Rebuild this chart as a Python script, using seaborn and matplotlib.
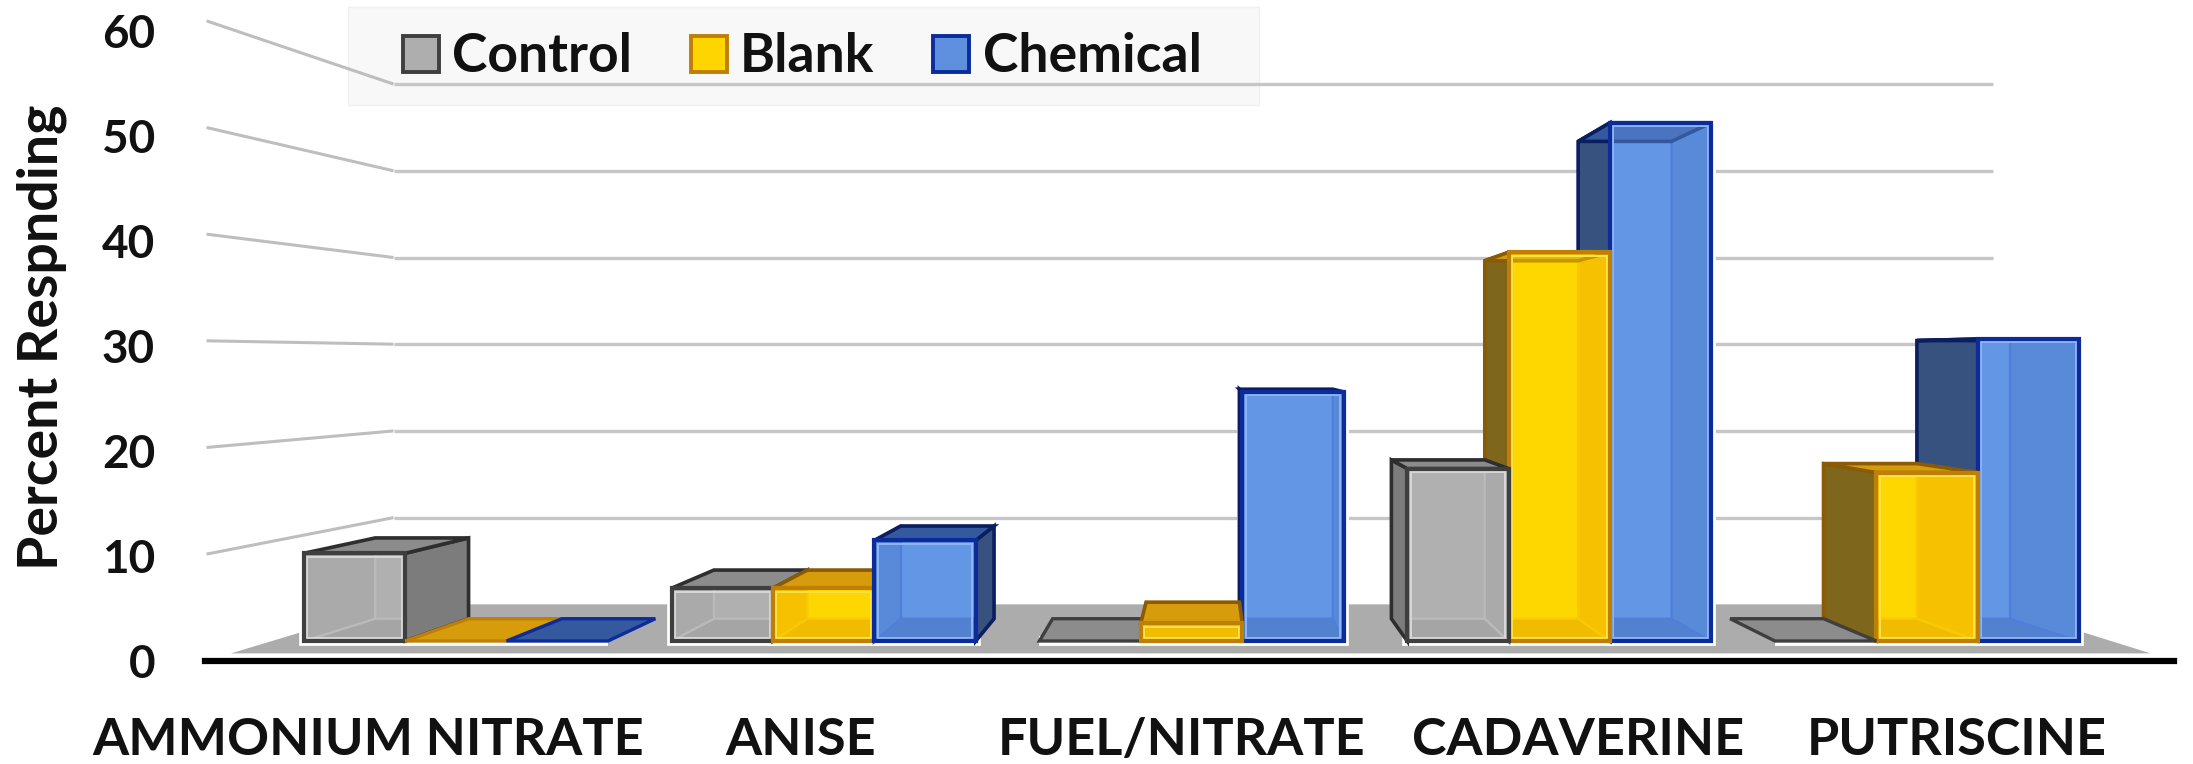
import matplotlib
matplotlib.use("Agg")
import matplotlib.pyplot as plt
from matplotlib.patches import Polygon, Patch, Rectangle
from matplotlib.lines import Line2D
from matplotlib.transforms import IdentityTransform
import pandas as pd
import seaborn as sns

categories = ["AMMONIUM NITRATE", "ANISE", "FUEL/NITRATE", "CADAVERINE", "PUTRISCINE"]
series_names = ["Control", "Blank", "Chemical"]
control = [8.8, 5.3, 0, 17.3, 0]
blank = [0, 5.3, 1.8, 39, 16.9]
chemical = [0, 10.1, 25, 52, 30.3]
y_ticks = [0, 10, 20, 30, 40, 50, 60]

W, H = 2193, 764
DEPTH_FRONT_WALL = 1.07
DEPTH_FLOOR_EDGE = 1.044
DEPTH_BAR_BACK = 0.921
DEPTH_BACK_WALL = 0.87
VANISH = (1207, H - 359)

STYLE = {
    "Control": dict(front="#AEAEAE", back="#B4B4B4", wall="#A6A6A6", floor="#9C9C9C", side="#7C7C7C",
                    top="#8C8C8C", edge="#3F3F3F", dark="#2E2E2E", rib="#C8C8C8", shine="#D8D8D8"),
    "Blank": dict(front="#FFD500", back="#FFDA00", wall="#EDB000", floor="#E0A400", side="#7E671C",
                  top="#D69C0C", edge="#BF7F06", dark="#8A5A04", rib="#F3BE10", shine="#FFE24A"),
    "Chemical": dict(front="#5F90E0", back="#6A9EEE", wall="#5485D2", floor="#4673C0", side="#38527F",
                     top="#35599F", edge="#0B2C9A", dark="#0A1E60", rib="#3F6FD0", shine="#8DB6F4"),
}

sns.set_theme(style="white")
plt.rcParams["font.family"] = ["Lato", "DejaVu Sans"]
plt.rcParams["font.weight"] = "bold"

fig = plt.figure(figsize=(W / 100, H / 100), dpi=100, facecolor="white")


def axes_box(left, right, top, bottom):
    return [left / W, 1 - bottom / H, (right - left) / W, (bottom - top) / H]


# Front wall of the room: carries the value axis and the heavy baseline
wall = fig.add_axes(axes_box(205, 2174, 31, 661), zorder=1)
wall.set_xlim(0, 1)
wall.set_ylim(0, 60)
wall.set_xticks([])
wall.set_yticks(y_ticks)
wall.tick_params(axis="y", length=0, pad=36, labelsize=33, labelcolor="#111111")
for name, spine in wall.spines.items():
    spine.set_visible(name == "bottom")
wall.spines["bottom"].set_color("black")
wall.spines["bottom"].set_linewidth(4.5)
wall.set_ylabel("Percent Respnding", fontsize=40, fontweight="bold", color="#111111")
wall.yaxis.set_label_coords(-0.07, 0.514)
wall.patch.set_alpha(0)

# Plane of the bar fronts
ax = fig.add_axes(axes_box(272, 2111, 43, 641), zorder=2)
table = pd.DataFrame({
    "category": categories * 3,
    "series": [s for s in series_names for _ in categories],
    "value": control + blank + chemical,
})
sns.barplot(data=table, x="category", y="value", hue="series", hue_order=series_names,
            palette=[STYLE[s]["front"] for s in series_names], saturation=1, width=0.827, gap=0,
            legend=False, ax=ax, zorder=5)
ax.set_xlim(-0.5, 4.5)
ax.set_ylim(0, 60)
ax.patch.set_alpha(0)
for spine in ax.spines.values():
    spine.set_visible(False)
ax.set_xlabel("")
ax.set_ylabel("")
ax.set_yticks([])
ax.set_xticks([-0.24, 0.937, 1.973, 3.05, 4.08], categories)
ax.tick_params(axis="x", length=0, pad=55, labelsize=37.5, labelcolor="#111111")


def project(x, value, depth):
    px, py = ax.transData.transform((x, value))
    return (VANISH[0] + (px - VANISH[0]) * depth, VANISH[1] + (py - VANISH[1]) * depth)


def face(points, facecolor, edgecolor, zorder, lw=1.6):
    poly = Polygon([project(*p) for p in points], closed=True, facecolor=facecolor,
                   edgecolor=edgecolor, linewidth=lw, zorder=zorder,
                   transform=IdentityTransform(), clip_on=False)
    ax.add_patch(poly)
    return poly


def rule(points, color, lw, zorder):
    xs, ys = zip(*[project(*p) for p in points])
    ax.add_line(Line2D(xs, ys, color=color, linewidth=lw, zorder=zorder,
                       transform=IdentityTransform(), clip_on=False, solid_capstyle="butt"))


# Seaborn's bars are the fronts; keep the list before adding the depth faces
bars = list(zip(list(ax.patches), [s for s in series_names for _ in categories]))

# Room: grid rules on the back wall, slanted rules on the side wall, grey floor
for v in y_ticks[1:]:
    rule([(-0.5, v, DEPTH_BACK_WALL), (4.5, v, DEPTH_BACK_WALL)], "#C6C6C6", 2.4, 1)
    rule([(-0.5, v, DEPTH_FRONT_WALL), (-0.5, v, DEPTH_BACK_WALL)], "#BEBEBE", 2.2, 1)
face([(-0.5, 0, DEPTH_FLOOR_EDGE), (4.5, 0, DEPTH_FLOOR_EDGE),
      (4.5, 0, DEPTH_BACK_WALL), (-0.5, 0, DEPTH_BACK_WALL)], "#ACACAC", "none", 2, lw=0)

# Bars far from the centre are painted first so nearer ones overlap their sides
bars.sort(key=lambda b: -abs(ax.transData.transform((b[0].get_x() + b[0].get_width() / 2, 0))[0] - VANISH[0]))

B = DEPTH_BAR_BACK
for patch, series in bars:
    x0, x1, v = patch.get_x(), patch.get_x() + patch.get_width(), patch.get_height()
    face([(x0, 0, 1), (x1, 0, 1), (x1, v, 1), (x0, v, 1)], "white", "white", 3, lw=7)

for order, (patch, series) in enumerate(bars):
    st = STYLE[series]
    x0, x1, v = patch.get_x(), patch.get_x() + patch.get_width(), patch.get_height()
    z = 5 + order * 0.1
    if v == 0:
        patch.set_visible(False)
        face([(x0, 0, 1), (x1, 0, 1), (x1, 0, B), (x0, 0, B)], st["top"], st["edge"], z, lw=2.4)
        continue
    left_outer = project(x0, 0, 1)[0] > VANISH[0]
    right_outer = project(x1, 0, 1)[0] < VANISH[0]
    left_wall = [(x0, 0, 1), (x0, v, 1), (x0, v, B), (x0, 0, B)]
    right_wall = [(x1, 0, 1), (x1, v, 1), (x1, v, B), (x1, 0, B)]
    top = [(x0, v, 1), (x1, v, 1), (x1, v, B), (x0, v, B)]
    face([(x0, 0, B), (x1, 0, B), (x1, v, B), (x0, v, B)], st["back"], st["rib"], z, lw=1.6)
    face([(x0, 0, 1), (x1, 0, 1), (x1, 0, B), (x0, 0, B)], st["floor"], st["rib"], z + 0.01, lw=1.6)
    if left_outer:
        face(right_wall, st["wall"], st["rib"], z + 0.02, lw=1.6)
        face(left_wall, st["side"], st["dark"], z + 0.03, lw=2.6)
    elif right_outer:
        face(left_wall, st["wall"], st["rib"], z + 0.02, lw=1.6)
        face(right_wall, st["side"], st["dark"], z + 0.03, lw=2.6)
    else:
        face(left_wall, st["wall"], st["rib"], z + 0.02, lw=1.6)
        face(right_wall, st["wall"], st["rib"], z + 0.02, lw=1.6)
    face(top, st["top"], st["dark"], z + 0.04, lw=2.6)
    patch.set_zorder(z + 0.05)
    patch.set_alpha(0.5)
    inset_x, inset_v = 0.009, 0.35
    if v > 1.5 * inset_v:
        face([(x0 + inset_x, inset_v, 1), (x1 - inset_x, inset_v, 1),
              (x1 - inset_x, v - inset_v, 1), (x0 + inset_x, v - inset_v, 1)],
             "none", st["shine"], z + 0.055, lw=1.4)
    face([(x0, 0, 1), (x1, 0, 1), (x1, v, 1), (x0, v, 1)], "none", st["edge"], z + 0.06, lw=3)

# Pale band behind the legend, with the top grid rule showing over it
fig.add_artist(Rectangle((348 / W, 1 - 105 / H), 911 / W, 98 / H, transform=fig.transFigure,
                         facecolor="#F8F8F8", edgecolor="#F0F0F0", linewidth=1, zorder=1.5))

handles = [Patch(facecolor=STYLE[s]["front"], edgecolor=STYLE[s]["edge"], linewidth=2.8) for s in series_names]
legend = ax.legend(handles, series_names, ncol=3, loc="center left",
                   bbox_to_anchor=(403 / W, 1 - 57 / H), bbox_transform=fig.transFigure,
                   fontsize=38.5, frameon=False, borderaxespad=0, borderpad=0,
                   handlelength=0.67, handleheight=0.67,
                   handletextpad=0.25, columnspacing=1.1, labelcolor="#111111")
legend.set_zorder(10)

fig.savefig("out.png", dpi=100, facecolor="white")
